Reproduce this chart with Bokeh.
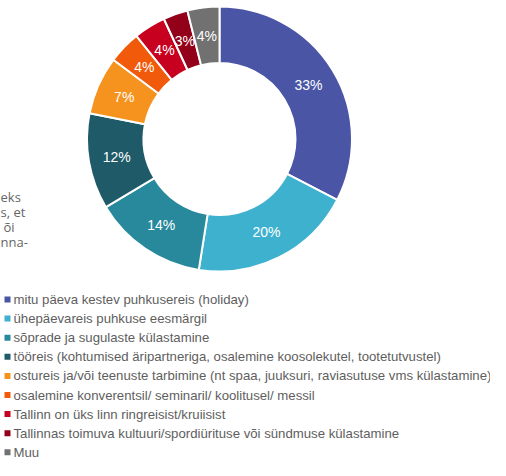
import numpy as np
from bokeh.plotting import figure
from bokeh.models import Range1d, ColumnDataSource
from bokeh.core.properties import value
from bokeh.embed import file_html
from bokeh.resources import INLINE

categories = [
    "mitu päeva kestev puhkusereis (holiday)",
    "ühepäevareis puhkuse eesmärgil",
    "sõprade ja sugulaste külastamine",
    "tööreis (kohtumised äripartneriga, osalemine koosolekutel, tootetutvustel)",
    "ostureis ja/või teenuste tarbimine (nt spaa, juuksuri, raviasutuse vms külastamine)",
    "osalemine konverentsil/ seminaril/ koolitusel/ messil",
    "Tallinn on üks linn ringreisist/kruiisist",
    "Tallinnas toimuva kultuuri/spordiürituse või sündmuse külastamine",
    "Muu",
]
shares = [32.6, 19.9, 13.9, 11.7, 7.1, 4.0, 3.9, 3.0, 3.9]
pct_labels = ["33%", "20%", "14%", "12%", "7%", "4%", "4%", "3%", "4%"]
colors = ["#4A55A6", "#3EB1CE", "#28899C", "#1E5A68", "#F6931E",
          "#F05A0A", "#C8001F", "#930019", "#717171"]
side_text = ["eks", "s, et", "õi", "nna-"]

W, H = 490, 460
M = 8  # page margin


def fy(y_screen):
    return H - (y_screen - M)


def fx(x_screen):
    return x_screen - M


p = figure(width=W, height=H, x_range=Range1d(0, W), y_range=Range1d(0, H),
           output_backend="svg", toolbar_location=None, min_border=0,
           x_axis_location=None, y_axis_location=None)
p.grid.visible = False
p.outline_line_color = None
p.background_fill_color = "white"

# donut
cx, cy = fx(227), fy(146.5)
R_out, R_in = 132.5, 76
vals = np.array(shares, dtype=float)
frac = vals / vals.sum()
cum = np.concatenate([[0], np.cumsum(frac)])
start = np.pi / 2 - 2 * np.pi * cum[:-1]
end = np.pi / 2 - 2 * np.pi * cum[1:]
mid = (start + end) / 2
rho = (R_out + R_in) / 2

src = ColumnDataSource(dict(start=start, end=end, color=colors,
                            lx=cx + rho * np.cos(mid), ly=cy + rho * np.sin(mid),
                            lab=pct_labels))
p.annular_wedge(x=cx, y=cy, inner_radius=R_in, outer_radius=R_out,
                start_angle="start", end_angle="end", direction="clock",
                fill_color="color", line_color="white", line_width=2, source=src)
p.text(x="lx", y="ly", text="lab", source=src, text_color="white",
       text_font=value("Liberation Sans"), text_font_size="14px",
       text_align="center", text_baseline="middle")

# legend
n = len(categories)
ly = [fy(307 + i * 19.1) for i in range(n)]
lsrc = ColumnDataSource(dict(y=ly, color=colors, name=categories))
p.scatter(x=fx(15), y="y", marker="square", size=6, fill_color="color",
          line_color=None, source=lsrc)
p.text(x=fx(21), y="y", text="name", source=lsrc, text_color="#5e5e5e",
       text_font=value("Liberation Sans"), text_font_size="13.2px",
       text_align="left", text_baseline="middle")

# cut-off side text
sy = [fy(204 + i * 15) for i in range(len(side_text))]
sx = [fx(8), fx(8), fx(11), fx(8)]
p.text(x=sx, y=sy, text=side_text, text_color="#666666",
       text_font=value("Open Sans"), text_font_size="13px",
       text_align="left", text_baseline="middle")

open("out.html", "w").write(file_html(p, INLINE))
